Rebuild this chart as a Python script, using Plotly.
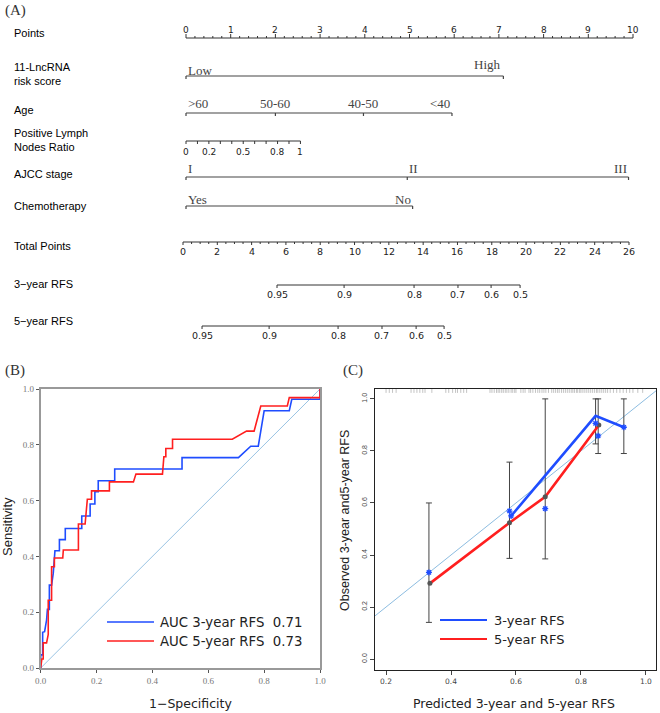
import plotly.graph_objects as go

# ======================= DATA =======================
# --- (A) nomogram ---
points_major = list(range(0, 11))
lnc_labels = ["Low", "High"]
lnc_points = [0.0, 7.1]
age_labels = [">60", "50-60", "40-50", "<40"]
age_points = [0.0, 2.0, 3.97, 5.95]
lnr_ticks = [0.0, 0.1, 0.2, 0.3, 0.4, 0.5, 0.6, 0.7, 0.8, 0.9, 1.0]
lnr_label_vals = [0.0, 0.2, 0.5, 0.8, 1.0]
lnr_label_text = ["0", "0.2", "0.5", "0.8", "1"]
lnr_points_at_one = 2.56
ajcc_labels = ["I", "II", "III"]
ajcc_points = [0.0, 4.95, 9.9]
chemo_labels = ["Yes", "No"]
chemo_points = [0.0, 5.07]
total_major = list(range(0, 27, 2))
total_max = 26
rfs_prob_text = ["0.95", "0.9", "0.8", "0.7", "0.6", "0.5"]
rfs3_total_points = [5.48, 9.39, 13.47, 16.03, 17.96, 19.65]
rfs5_total_points = [1.11, 5.02, 9.04, 11.60, 13.59, 15.22]

# --- (B) ROC curves ---
roc3_fpr = [0, 0, 0.007, 0.007, 0.014, 0.021, 0.024, 0.031, 0.031, 0.039, 0.045, 0.051, 0.067,
            0.067, 0.088, 0.088, 0.147, 0.147, 0.177, 0.177, 0.194, 0.194, 0.206, 0.206, 0.265,
            0.265, 0.506, 0.506, 0.708, 0.752, 0.779, 0.8, 0.89, 0.899, 1.0, 1.0]
roc3_tpr = [0, 0.047, 0.047, 0.128, 0.13, 0.172, 0.21, 0.21, 0.297, 0.297, 0.34, 0.42, 0.42,
            0.46, 0.46, 0.50, 0.50, 0.545, 0.545, 0.588, 0.588, 0.632, 0.632, 0.671, 0.671,
            0.713, 0.713, 0.754, 0.754, 0.795, 0.795, 0.922, 0.922, 0.963, 0.963, 1.0]
roc5_fpr = [0, 0.004, 0.009, 0.009, 0.021, 0.027, 0.027, 0.039, 0.039, 0.049, 0.049, 0.079,
            0.081, 0.135, 0.135, 0.159, 0.167, 0.182, 0.182, 0.246, 0.246, 0.332, 0.341, 0.436,
            0.441, 0.448, 0.448, 0.472, 0.472, 0.686, 0.737, 0.764, 0.788, 0.883, 0.89, 1.0, 1.0]
roc5_tpr = [0, 0.032, 0.032, 0.09, 0.09, 0.12, 0.243, 0.243, 0.363, 0.363, 0.394, 0.394,
            0.423, 0.423, 0.516, 0.516, 0.605, 0.605, 0.635, 0.635, 0.667, 0.667, 0.695, 0.695,
            0.757, 0.757, 0.787, 0.787, 0.82, 0.82, 0.849, 0.849, 0.939, 0.939, 0.969, 0.969, 1.0]
roc_legend = ["AUC 3-year RFS  0.71", "AUC 5-year RFS  0.73"]

# --- (C) calibration ---
cal3_line_x = [0.585, 0.845, 0.932]
cal3_line_y = [0.55, 0.935, 0.891]
cal3_mark_x = [0.332, 0.58, 0.585, 0.69, 0.845, 0.853, 0.932]
cal3_mark_y = [0.333, 0.569, 0.55, 0.578, 0.906, 0.858, 0.891]
cal5_line_x = [0.335, 0.58, 0.69, 0.853]
cal5_line_y = [0.291, 0.524, 0.624, 0.896]
cal5_mark_x = [0.335, 0.58, 0.69, 0.855]
cal5_mark_y = [0.291, 0.524, 0.624, 0.9]
err_x = [0.332, 0.58, 0.69, 0.845, 0.853, 0.932]
err_lo = [0.141, 0.387, 0.385, 0.827, 0.79, 0.79]
err_hi = [0.60, 0.757, 1.0, 1.0, 1.0, 1.0]
rug_x = [0.2, 0.21, 0.22, 0.231, 0.277, 0.286, 0.295, 0.304, 0.313, 0.32, 0.341, 0.384,
         0.393, 0.405, 0.414, 0.42, 0.43, 0.439, 0.448, 0.52, 0.526, 0.533, 0.54, 0.545,
         0.55, 0.556, 0.561, 0.567, 0.572, 0.578, 0.585, 0.59, 0.596, 0.6, 0.615, 0.622,
         0.628, 0.64, 0.645, 0.652, 0.66, 0.667, 0.673, 0.68, 0.686, 0.692, 0.7, 0.71, 0.716,
         0.722, 0.728, 0.733, 0.74, 0.746, 0.752, 0.758, 0.764, 0.77, 0.775, 0.78, 0.786,
         0.79, 0.796, 0.8, 0.806, 0.812, 0.818, 0.824, 0.83, 0.836, 0.842, 0.848, 0.852,
         0.858, 0.864, 0.87, 0.876, 0.882, 0.89, 0.9, 0.91, 0.92, 0.93, 0.94, 0.95, 0.96, 0.975, 0.99]
cal_legend = ["3-year RFS", "5-year RFS"]

# ======================= LAYOUT CONSTANTS =======================
W, H = 660, 713
NOMO_H = 345
P0_PX, P_PER = 186.0, 44.7
T0_PX, T_PER = 183.0, 17.154
LINE = "#333333"
SANS = "Liberation Sans, Arial, sans-serif"
WIDE = "DejaVu Sans, Verdana, sans-serif"
SERIF = "Liberation Serif, Times New Roman, serif"
BLUE = "#1f4dff"
RED = "#ff1f1f"
DIAG = "#7fb4dc"

fig = go.Figure()


def segs(pairs):
    xs, ys = [], []
    for (x0, y0, x1, y1) in pairs:
        xs += [x0, x1, None]
        ys += [y0, y1, None]
    return xs, ys


def add_segs(pairs, xa="x", ya="y", color=LINE, width=1.0):
    xs, ys = segs(pairs)
    fig.add_trace(go.Scatter(x=xs, y=ys, mode="lines", xaxis=xa, yaxis=ya,
                             line=dict(color=color, width=width), hoverinfo="skip",
                             showlegend=False))


ann = []


def text(x, y, t, xref="x", yref="y", size=11, family=SANS, color="black",
         xanchor="center", yanchor="middle", angle=0, align="center"):
    ann.append(dict(x=x, y=y, xref=xref, yref=yref, text=t, showarrow=False,
                    font=dict(size=size, family=family, color=color),
                    xanchor=xanchor, yanchor=yanchor, textangle=angle, align=align))


# ---------- (A) nomogram ----------
Y_PTS, Y_LNC, Y_AGE, Y_LNR, Y_AJCC, Y_CHEMO = 38, 76, 113, 141, 177, 206
Y_TOT, Y_R3, Y_R5 = 242, 285, 326

pts = [(0, Y_PTS, 10, Y_PTS)]
for i in range(0, 51):
    v = i * 0.2
    h = 4 if i % 5 == 0 else 2
    pts.append((v, Y_PTS, v, Y_PTS - h))
add_segs(pts)
for v in points_major:
    text(v, 30, str(v), size=9, family=WIDE, color="#222")


def cat_row(y, vals, labels, label_y, anchors):
    pairs = [(vals[0], y, vals[-1], y)]
    for v in vals:
        pairs.append((v, y, v, y + 3))
    add_segs(pairs, color="#444", width=1.2)
    for k, (v, lab) in enumerate(zip(vals, labels)):
        ly = label_y[k] if isinstance(label_y, list) else label_y
        text(v, ly, lab, size=13, family=SERIF, color="#444", xanchor=anchors[k])


cat_row(Y_LNC, lnc_points, lnc_labels, [70.5, 64], ["left", "right"])
cat_row(Y_AGE, age_points, age_labels, 103.5, ["left", "center", "center", "right"])
cat_row(Y_AJCC, ajcc_points, ajcc_labels, 168.5, ["left", "left", "right"])
cat_row(Y_CHEMO, chemo_points, chemo_labels, 199, ["left", "right"])

lnr = [(0, Y_LNR, lnr_points_at_one, Y_LNR)]
for v in lnr_ticks:
    lnr.append((v * lnr_points_at_one, Y_LNR, v * lnr_points_at_one, Y_LNR + 3))
add_segs(lnr)
for v, t in zip(lnr_label_vals, lnr_label_text):
    text(v * lnr_points_at_one, 152, t, size=9, family=WIDE, color="#222")

tot = [(0, Y_TOT, total_max, Y_TOT)]
for i in range(0, total_max * 2 + 1):
    v = i * 0.5
    h = 3 if i % 4 == 0 else 2
    tot.append((v, Y_TOT, v, Y_TOT + h))
add_segs(tot, xa="x2")
for v in total_major:
    text(v, 251.5, str(v), xref="x2", size=9.5, family=WIDE, color="#222")

for yy, vals in ((Y_R3, rfs3_total_points), (Y_R5, rfs5_total_points)):
    pr = [(vals[0], yy, vals[-1], yy)]
    for v in vals:
        pr.append((v, yy, v, yy + 3))
    add_segs(pr, xa="x2")
    for v, t in zip(vals, rfs_prob_text):
        text(v, yy + 9.5, t, xref="x2", size=9.5, family=WIDE, color="#222")

row_labels = [("Points", 33), ("11-LncRNA<br>risk score", 73.5), ("Age", 110),
              ("Positive Lymph<br>Nodes Ratio", 140), ("AJCC stage", 174),
              ("Chemotherapy", 206), ("Total Points", 246), ("3\u2212year RFS", 284),
              ("5\u2212year RFS", 321)]
for lab, yy in row_labels:
    text(12 / W, yy, lab, xref="paper", size=11, xanchor="left", align="left")

text(3 / W, 1 - 11 / H, "(A)", xref="paper", yref="paper", size=15, family=SERIF,
     color="#333", xanchor="left")
text(3 / W, 1 - 371 / H, "(B)", xref="paper", yref="paper", size=15, family=SERIF,
     color="#333", xanchor="left")
text(341 / W, 1 - 371 / H, "(C)", xref="paper", yref="paper", size=15, family=SERIF,
     color="#333", xanchor="left")

# ---------- (B) ROC ----------
fig.add_trace(go.Scatter(x=[0, 1], y=[0, 1], mode="lines", xaxis="x3", yaxis="y3",
                         line=dict(color=DIAG, width=0.8), showlegend=False, hoverinfo="skip"))
fig.add_trace(go.Scatter(x=roc3_fpr, y=roc3_tpr, mode="lines", xaxis="x3", yaxis="y3",
                         line=dict(color=BLUE, width=1.6), showlegend=False))
fig.add_trace(go.Scatter(x=roc5_fpr, y=roc5_tpr, mode="lines", xaxis="x3", yaxis="y3",
                         line=dict(color=RED, width=1.6), showlegend=False))

shapes = []
for k, (col, lab) in enumerate(zip([BLUE, RED], roc_legend)):
    ypx = 622 + k * 19
    shapes.append(dict(type="line", xref="paper", yref="paper", x0=107 / W, x1=154 / W,
                       y0=1 - ypx / H, y1=1 - ypx / H, line=dict(color=col, width=1.6)))
    text(158 / W, 1 - ypx / H, lab, xref="paper", yref="paper", size=13.3, family=WIDE,
         color="#222", xanchor="left")
text(7 / W, 1 - 527 / H, "Sensitivity", xref="paper", yref="paper", size=13, angle=-90,
     color="#222")
text(190 / W, 1 - 703 / H, "1\u2212Specificity", xref="paper", yref="paper", size=12.5,
     family=WIDE, color="#222")

# ---------- (C) calibration ----------
fig.add_trace(go.Scatter(x=[0.1, 1.1], y=[0.1, 1.1], mode="lines", xaxis="x4", yaxis="y4",
                         line=dict(color=DIAG, width=0.9), showlegend=False, hoverinfo="skip"))
rx, ry = [], []
for v in rug_x:
    rx += [v, v, None]
    ry += [1.023, 1.04, None]
fig.add_trace(go.Scatter(x=rx, y=ry, mode="lines", xaxis="x4", yaxis="y4",
                         line=dict(color="#aaaaaa", width=0.7), showlegend=False, hoverinfo="skip"))
fig.add_trace(go.Scatter(x=err_x, y=[(l + h) / 2 for l, h in zip(err_lo, err_hi)],
                         mode="markers", xaxis="x4", yaxis="y4",
                         marker=dict(size=1, color="rgba(0,0,0,0)"),
                         error_y=dict(type="data", symmetric=True,
                                      array=[(h - l) / 2 for l, h in zip(err_lo, err_hi)],
                                      color="#444", thickness=1, width=3),
                         showlegend=False, hoverinfo="skip"))
fig.add_trace(go.Scatter(x=cal5_line_x, y=cal5_line_y, mode="lines", xaxis="x4", yaxis="y4",
                         line=dict(color=RED, width=2.6), showlegend=False))
fig.add_trace(go.Scatter(x=cal3_line_x, y=cal3_line_y, mode="lines", xaxis="x4", yaxis="y4",
                         line=dict(color=BLUE, width=2.6), showlegend=False))
fig.add_trace(go.Scatter(x=cal5_mark_x, y=cal5_mark_y, mode="markers", xaxis="x4", yaxis="y4",
                         marker=dict(size=5, color="#555"), showlegend=False))
fig.add_trace(go.Scatter(x=cal3_mark_x, y=cal3_mark_y, mode="markers", xaxis="x4", yaxis="y4",
                         marker=dict(size=5, symbol="asterisk-open", color=BLUE,
                                     line=dict(color=BLUE, width=1.3)), showlegend=False))

for k, (col, lab) in enumerate(zip([BLUE, RED], cal_legend)):
    ypx = 620 + k * 19
    shapes.append(dict(type="line", xref="paper", yref="paper", x0=440 / W, x1=487 / W,
                       y0=1 - ypx / H, y1=1 - ypx / H, line=dict(color=col, width=2)))
    text(492 / W, 1 - ypx / H, lab, xref="paper", yref="paper", size=13, family=WIDE,
         color="#222", xanchor="left")
text(345 / W, 1 - 521 / H, "Observed 3-year and5-year RFS", xref="paper", yref="paper",
     size=12.5, angle=-90, color="#222")
text(514 / W, 1 - 703 / H, "Predicted 3-year and 5-year RFS", xref="paper", yref="paper",
     size=12.5, family=WIDE, color="#222")

hidden = dict(visible=False, showgrid=False, zeroline=False, fixedrange=True, automargin=False)
roc_ticks = [0, 0.2, 0.4, 0.6, 0.8, 1.0]
roc_tick_text = ["0.0", "0.2", "0.4", "0.6", "0.8", "1.0"]

fig.update_layout(
    width=W, height=H, margin=dict(l=0, r=0, t=0, b=0, pad=0, autoexpand=False),
    paper_bgcolor="white", plot_bgcolor="rgba(0,0,0,0)", showlegend=False,
    xaxis=dict(domain=[0, 1], range=[-P0_PX / P_PER, (W - P0_PX) / P_PER], anchor="y", **hidden),
    xaxis2=dict(domain=[0, 1], range=[-T0_PX / T_PER, (W - T0_PX) / T_PER], anchor="y",
                overlaying="x", **hidden),
    yaxis=dict(domain=[1 - NOMO_H / H, 1], range=[NOMO_H, 0], anchor="x", **hidden),
    xaxis3=dict(domain=[40.7 / W, 320 / W], range=[0, 1], anchor="y3", automargin=False,
                showline=True, mirror=True, linecolor="#999", linewidth=2,
                ticks="outside", ticklen=3, tickcolor="#555", tickvals=roc_ticks,
                ticktext=roc_tick_text, showgrid=False, zeroline=False,
                tickfont=dict(family=SERIF, size=9, color="#777")),
    yaxis3=dict(domain=[(H - 668) / H, (H - 389) / H], range=[0, 1], anchor="x3", automargin=False,
                showline=True, mirror=True, linecolor="#999", linewidth=2,
                ticks="outside", ticklen=3, tickcolor="#555", tickvals=roc_ticks,
                ticktext=roc_tick_text, showgrid=False, zeroline=False,
                tickfont=dict(family=SERIF, size=9, color="#777")),
    xaxis4=dict(domain=[375 / W, 656 / W], range=[0.166, 1.031], anchor="y4", automargin=False,
                showline=True, mirror=True, linecolor="#222", linewidth=1,
                ticks="outside", ticklen=4, tickcolor="#444", tickvals=[0.2, 0.4, 0.6, 0.8, 1.0],
                ticktext=["0.2", "0.4", "0.6", "0.8", "1.0"], showgrid=False, zeroline=False,
                tickfont=dict(family=WIDE, size=7.5, color="#444")),
    yaxis4=dict(domain=[(H - 670) / H, (H - 389) / H], range=[-0.042, 1.038], anchor="x4",
                automargin=False,
                showline=True, mirror=True, linecolor="#222", linewidth=1,
                ticks="outside", ticklen=4, tickcolor="#444", tickvals=roc_ticks,
                ticktext=roc_tick_text, tickangle=-90, showgrid=False, zeroline=False,
                tickfont=dict(family=SANS, size=7, color="#444")),
    annotations=ann, shapes=shapes,
)

fig.write_html(
    "out.html",
    config={"displayModeBar": False},
    post_script=("document.body.style.margin='0';document.body.style.padding='0';"
                 "document.body.style.overflow='hidden';"
                 "document.documentElement.style.overflow='hidden';"),
)
